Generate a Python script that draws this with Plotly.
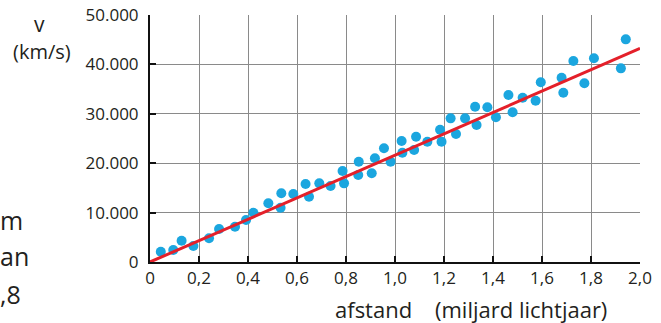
import plotly.graph_objects as go

# Data
afstand = [0.044, 0.095, 0.129, 0.177, 0.241, 0.282, 0.347, 0.392, 0.422, 0.483,
           0.533, 0.536, 0.585, 0.635, 0.649, 0.691, 0.737, 0.786, 0.792, 0.850,
           0.852, 0.905, 0.918, 0.955, 0.982, 1.027, 1.030, 1.078, 1.086, 1.132,
           1.184, 1.190, 1.227, 1.249, 1.286, 1.327, 1.333, 1.377, 1.412, 1.463,
           1.480, 1.521, 1.574, 1.595, 1.680, 1.687, 1.728, 1.773, 1.812, 1.922,
           1.942]
snelheid = [2085, 2430, 4310, 3240, 4800, 6680, 7150, 8500, 9980, 11880,
            10990, 13900, 13760, 15790, 13220, 15920, 15380, 18420, 15920, 17610,
            20300, 17950, 20990, 23010, 20300, 24490, 22120, 22670, 25360, 24350,
            26780, 24350, 29080, 25900, 29080, 31440, 27730, 31310, 29290, 33800,
            30300, 33250, 32650, 36370, 37300, 34270, 40680, 36170, 41230, 39200,
            45070]
trend_x = [0.0, 2.0]
trend_v = [0, 43250]

x_tickvals = [0, 0.2, 0.4, 0.6, 0.8, 1.0, 1.2, 1.4, 1.6, 1.8, 2.0]
x_ticktext = ["0", "0,2", "0,4", "0,6", "0,8", "1,0", "1,2", "1,4", "1,6", "1,8", "2,0"]
y_tickvals = [0, 10000, 20000, 30000, 40000, 50000]
y_ticktext = ["0", "10.000", "20.000", "30.000", "40.000", "50.000"]

W, H = 661, 323
L, R, T, B = 150, 21, 15, 61
PW, PH = W - L - R, H - T - B

def px(x):
    return (x - L) / PW

def py(y):
    return (H - B - y) / PH

FONT = "Open Sans"
TXT = "#231f20"
NB = "\u00a0"

fig = go.Figure()
fig.add_trace(go.Scatter(x=afstand, y=snelheid, mode="markers",
                         marker=dict(size=10, color="#1ba6df"),
                         showlegend=False, cliponaxis=False))
fig.add_trace(go.Scatter(x=trend_x, y=trend_v, mode="lines",
                         line=dict(color="#e4202a", width=3),
                         showlegend=False, cliponaxis=False))

axis_common = dict(showgrid=True, gridcolor="#8a8a8a", gridwidth=1,
                   showline=True, linecolor="#111111", linewidth=2,
                   ticks="inside", ticklen=6, tickwidth=2, tickcolor="#111111",
                   zeroline=False, automargin=False,
                   tickfont=dict(family=FONT, size=17, color=TXT))

fig.update_xaxes(range=[0, 2.0], tickvals=x_tickvals, ticktext=x_ticktext,
                 **axis_common)
fig.update_yaxes(range=[0, 50000], tickvals=y_tickvals, ticktext=y_ticktext,
                 ticklabelstandoff=6, **axis_common)

annotations = [
    dict(text="v", x=px(39), y=py(24), xanchor="center", yanchor="middle",
         font=dict(size=21)),
    dict(text="(km/s)", x=px(42), y=py(52), xanchor="center", yanchor="middle",
         font=dict(size=20)),
    dict(text="afstand" + NB * 4 + "(miljard lichtjaar)", x=px(471), y=py(309),
         xanchor="center", yanchor="middle", font=dict(size=22)),
    dict(text="m", x=px(-2), y=py(220), xanchor="left", yanchor="middle",
         font=dict(size=25)),
    dict(text="an", x=px(-2), y=py(256), xanchor="left", yanchor="middle",
         font=dict(size=25)),
    dict(text=",8", x=px(-2), y=py(294), xanchor="left", yanchor="middle",
         font=dict(size=25)),
]
for a in annotations:
    a.update(xref="paper", yref="paper", showarrow=False)
    a["font"].update(family=FONT, color=TXT)

fig.update_layout(width=W, height=H, margin=dict(l=L, r=R, t=T, b=B),
                  paper_bgcolor="white", plot_bgcolor="white",
                  annotations=annotations)

fig.write_html("out.html", config={"displayModeBar": False},
               post_script="document.body.style.margin='0';"
                           "document.body.style.overflow='hidden';")
